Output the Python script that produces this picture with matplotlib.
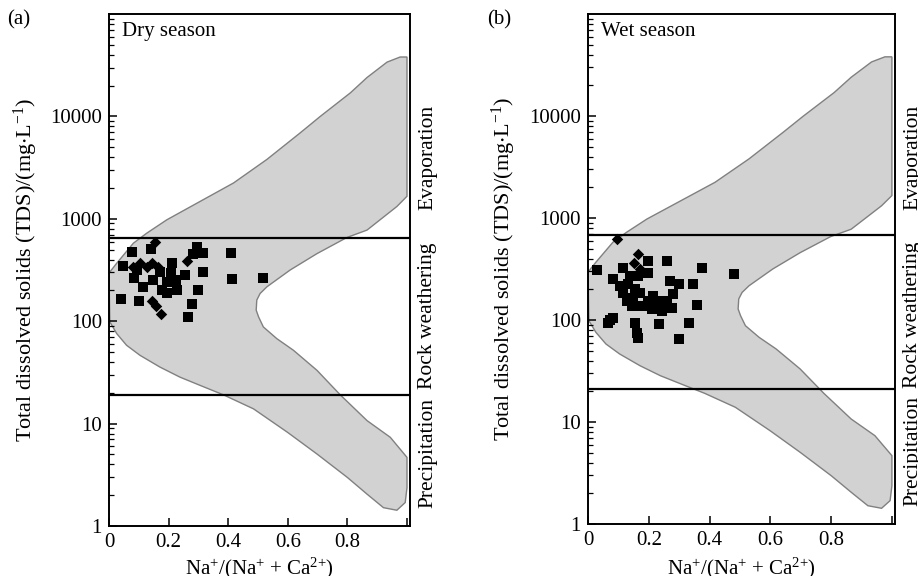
import matplotlib
matplotlib.use("Agg")
import matplotlib.pyplot as plt
import numpy as np
from matplotlib.ticker import LogLocator, NullFormatter

plt.rcParams["font.family"] = ["Liberation Serif", "DejaVu Serif"]
plt.rcParams["mathtext.fontset"] = "custom"
plt.rcParams["mathtext.rm"] = "Liberation Serif"
plt.rcParams["mathtext.it"] = "Liberation Serif:italic"
plt.rcParams["mathtext.default"] = "regular"

# Gibbs envelope outline: Na/(Na+Ca) and log10(TDS)
env_x = [0.0, 0.026, 0.082, 0.127, 0.194, 0.306, 0.418, 0.530, 0.642, 0.709, 0.810, 0.866, 0.933,
         0.977, 1.0,
         1.0, 0.966, 0.866, 0.798, 0.698, 0.608, 0.530, 0.507, 0.496, 0.494,
         0.502, 0.518, 0.563, 0.619, 0.698, 0.776, 0.866, 0.944, 1.0,
         1.0, 0.994, 0.966, 0.921, 0.866, 0.800, 0.698, 0.599, 0.485, 0.384,
         0.306, 0.238, 0.171, 0.104, 0.059, 0.026, 0.003]
env_logtds = [2.47, 2.566, 2.762, 2.86, 2.99, 3.17, 3.35, 3.58, 3.84, 4.0, 4.23, 4.38, 4.53,
              4.58, 4.58,
              3.22, 3.12, 2.89, 2.817, 2.66, 2.50, 2.336, 2.27, 2.206, 2.108,
              2.042, 1.944, 1.830, 1.716, 1.520, 1.281, 1.029, 0.866, 0.67,
              0.375, 0.229, 0.154, 0.179, 0.311, 0.474, 0.703, 0.915, 1.144, 1.281,
              1.373, 1.454, 1.552, 1.667, 1.765, 1.879, 1.993]

# dry season samples
dry_sq_x = [0.076, 0.140, 0.048, 0.085, 0.115, 0.149, 0.040, 0.102, 0.211, 0.208, 0.194, 0.177,
            0.194, 0.255, 0.281, 0.295, 0.317, 0.317, 0.300, 0.280, 0.265, 0.408, 0.414, 0.518,
            0.094, 0.171, 0.225, 0.228]
dry_sq_tds = [472, 508, 349, 264, 218, 252, 166, 158, 368, 294, 243, 201,
              187, 282, 451, 526, 461, 299, 201, 147, 111, 459, 257, 267,
              316, 302, 252, 201]
dry_dm_x = [0.155, 0.082, 0.104, 0.127, 0.143, 0.166, 0.144, 0.158, 0.173, 0.262]
dry_dm_tds = [595, 341, 368, 341, 368, 341, 158, 140, 117, 387]

# wet season samples
wet_sq_x = [0.031, 0.081, 0.073, 0.066, 0.083, 0.197, 0.259, 0.116, 0.199, 0.133, 0.116, 0.128,
            0.155, 0.149, 0.171, 0.144, 0.177, 0.199, 0.215, 0.227, 0.248, 0.210, 0.243, 0.265,
            0.155, 0.161, 0.166, 0.234, 0.375, 0.479, 0.270, 0.300, 0.347, 0.281, 0.259, 0.278,
            0.358, 0.333, 0.301, 0.165, 0.138, 0.106]
wet_sq_tds = [307, 251, 99, 94, 105, 378, 375, 320, 291, 224, 185, 153,
              200, 166, 185, 137, 137, 153, 172, 143, 153, 127, 122, 132,
              94, 75, 67, 92, 324, 280, 241, 227, 227, 180, 153, 132,
              139, 94, 65, 270, 270, 215]
wet_dm_x = [0.097, 0.166, 0.152, 0.171]
wet_dm_tds = [618, 441, 362, 316]

# zone boundaries (TDS)
dry_bounds = [650, 19.2]
wet_bounds = [680, 21]

zones = ["Evaporation", "Rock weathering", "Precipitation"]

panels = [
    dict(rect=[0.1187, 0.0868, 0.3279, 0.8889], tag="(a)", tag_x=0.008, title="Dry season",
         sq=(dry_sq_x, dry_sq_tds), dm=(dry_dm_x, dry_dm_tds), bounds=dry_bounds,
         ylab_x=-0.229, xlab_y=-0.058),
    dict(rect=[0.6405, 0.0903, 0.3344, 0.8854], tag="(b)", tag_x=0.531, title="Wet season",
         sq=(wet_sq_x, wet_sq_tds), dm=(wet_dm_x, wet_dm_tds), bounds=wet_bounds,
         ylab_x=-0.228, xlab_y=-0.062),
]

fig = plt.figure(figsize=(9.18, 5.76), dpi=100)
fs = 15

for p in panels:
    ax = fig.add_axes(p["rect"])
    ax.set_yscale("log")
    ax.set_xlim(0, 1.01)
    ax.set_ylim(1, 1e5)

    ax.fill(env_x, 10 ** np.array(env_logtds), facecolor="#d2d2d2", edgecolor="#808080",
            linewidth=1.0, zorder=1)
    for b in p["bounds"]:
        ax.axhline(b, color="black", linewidth=1.6, zorder=2)

    ax.scatter(p["sq"][0], p["sq"][1], marker="s", s=42, color="black", linewidths=0, zorder=3)
    ax.scatter(p["dm"][0], p["dm"][1], marker="D", s=34, color="black", linewidths=0, zorder=4)

    ax.set_yticks([1, 10, 100, 1000, 10000])
    ax.set_yticklabels(["1", "10", "100", "1000", "10000"])
    ax.yaxis.set_minor_locator(LogLocator(base=10, subs=np.arange(2, 10)))
    ax.yaxis.set_minor_formatter(NullFormatter())
    ax.set_xticks([0, 0.2, 0.4, 0.6, 0.8, 1.0])
    ax.set_xticklabels(["0", "0.2", "0.4", "0.6", "0.8", ""])
    ax.tick_params(which="major", direction="in", length=6, width=1.1, labelsize=fs, pad=5)
    ax.tick_params(which="minor", direction="in", length=3.5, width=0.9)
    ax.tick_params(top=False, right=False, which="both")
    for sp in ax.spines.values():
        sp.set_linewidth(1.4)

    ax.set_ylabel(r"Total dissolved solids (TDS)/(mg$\cdot$L$^{-1}$)", fontsize=16)
    ax.yaxis.set_label_coords(p["ylab_x"], 0.5)
    ax.set_xlabel(r"Na$^{+}$/(Na$^{+}$ + Ca$^{2{+}}$)", fontsize=fs)
    ax.xaxis.set_label_coords(0.5, p["xlab_y"])

    ax.text(0.043, 0.965, p["title"], transform=ax.transAxes, ha="left", va="center", fontsize=fs)
    for lab, yy in zip(zones, [0.719, 0.41, 0.143]):
        ax.text(1.027, yy, lab, transform=ax.transAxes, rotation=90, ha="left", va="center",
                fontsize=15.5, clip_on=False)

    fig.text(p["tag_x"], 0.965, p["tag"], ha="left", va="center", fontsize=fs)

fig.savefig("out.png", dpi=100)
